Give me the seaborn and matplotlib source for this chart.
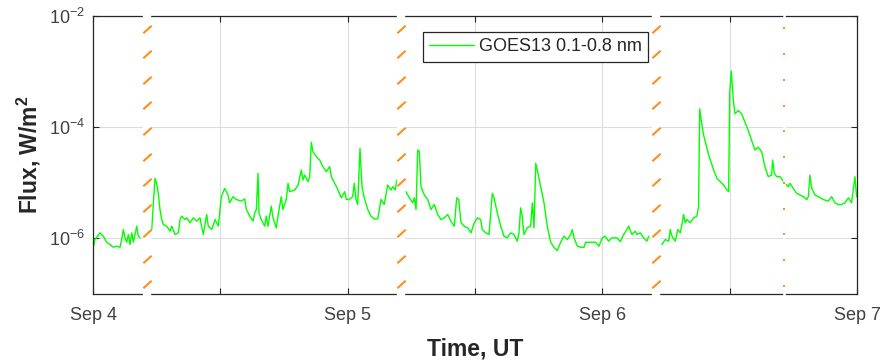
import numpy as np
import pandas as pd
import matplotlib
matplotlib.use("Agg")
import matplotlib.pyplot as plt
import matplotlib.dates as mdates
from matplotlib.path import Path
from matplotlib.ticker import FixedLocator, LogFormatterMathtext, NullLocator, FuncFormatter
import seaborn as sns

# GOES-13 long channel X-ray flux, 2017 Sep 4-7 (hours since Sep 4 00:00 UT, log10 W/m^2)
start = pd.Timestamp("2017-09-04 00:00")
hours = [
    0.03, 0.19, 0.66, 0.97, 1.29, 1.60, 1.91, 2.23, 2.54, 2.70, 2.86, 3.02, 3.18, 3.33,
    3.49, 3.65, 3.80, 3.96, 4.12, 4.27, 4.43,
    5.53, 5.84, 6.00, 6.15, 6.31, 6.47, 6.62, 6.94, 7.26, 7.42, 7.73, 8.04, 8.20, 8.36,
    8.67, 8.83, 9.14, 9.45, 9.77, 10.08, 10.39, 10.71, 10.86, 11.19, 11.50, 11.81, 11.97,
    12.09, 12.41, 12.72, 12.88, 13.19, 13.50, 13.97, 14.30, 14.45, 14.77, 15.08, 15.24,
    15.39, 15.55, 15.64, 15.86, 16.18, 16.33, 16.49, 16.80, 16.96, 17.27, 17.43, 17.74,
    17.90, 18.21, 18.38, 18.54, 19.01, 19.32, 19.63, 19.79, 19.95, 20.26, 20.42, 20.57,
    20.73, 21.04, 21.36, 21.67, 21.98, 22.30, 22.46, 22.78, 23.09, 23.40, 23.72, 23.87,
    24.15, 24.47, 24.62, 24.78, 24.94, 25.16, 25.35, 25.56, 25.89, 26.20, 26.51, 26.83,
    26.98, 27.14, 27.45, 27.77, 28.08, 28.24, 28.49, 28.62,
    29.49, 29.81, 30.13, 30.28, 30.44, 30.60, 30.75, 30.91, 31.22, 31.54, 31.85, 32.16,
    32.48, 32.79, 33.10, 33.42, 33.73, 34.05, 34.27, 34.46, 34.68, 34.99, 35.31, 35.62,
    35.93, 36.21, 36.53, 36.68, 37.00, 37.32, 37.63, 37.79, 38.10, 38.42, 38.73, 39.04,
    39.36, 39.67, 39.98, 40.14, 40.30, 40.45, 40.61, 40.92, 41.24, 41.40, 41.56, 41.72,
    41.87, 42.19, 42.50, 42.81, 43.13, 43.44, 43.75, 44.07, 44.38, 44.70, 45.01, 45.17,
    45.33, 45.64, 45.96, 46.27, 46.43, 46.90, 47.37, 47.68, 47.99, 48.27, 48.59, 48.91,
    49.38, 49.69, 50.01, 50.32, 50.48, 50.79, 51.10, 51.26, 51.57, 51.89, 52.20, 52.36,
    53.62, 53.93, 54.25, 54.40, 54.56, 54.87, 55.12, 55.34, 55.50, 55.66, 55.81, 55.97,
    56.28, 56.60, 56.91, 57.07, 57.17, 57.32, 57.55, 58.02, 58.49, 58.80, 59.11, 59.43,
    59.74, 59.90, 60.00, 60.15, 60.34, 60.50, 60.81, 61.13, 61.44, 61.75, 62.07, 62.38,
    62.69, 63.01, 63.32, 63.63, 63.95, 64.05, 64.20, 64.43, 64.74, 65.21, 65.52, 65.68,
    65.99, 66.31, 66.62, 66.94, 67.26, 67.41, 67.57, 67.73, 68.04, 68.35, 68.82, 69.29,
    69.61, 69.92, 70.23, 70.55, 70.86, 71.18, 71.49, 71.80, 71.96,
]
log_flux = [
    -6.16, -6.02, -5.90, -5.96, -6.07, -6.11, -6.16, -6.14, -6.16, -6.02, -5.84, -5.99, -6.07, -5.93,
    -6.11, -5.90, -6.07, -5.93, -5.78, -5.96, -5.99,
    -5.84, -4.92, -5.01, -5.19, -5.48, -5.66, -5.75, -5.78, -5.87, -5.78, -5.93, -5.90, -5.66, -5.60,
    -5.66, -5.63, -5.72, -5.63, -5.69, -5.63, -5.93, -5.57, -5.78, -5.84, -5.66, -5.78, -5.48,
    -5.25, -5.10, -5.22, -5.36, -5.25, -5.30, -5.33, -5.29, -5.48, -5.60, -5.69, -5.54,
    -5.48, -4.83, -5.54, -5.66, -5.78, -5.60, -5.78, -5.42, -5.63, -5.81, -5.60, -5.25,
    -5.48, -5.30, -5.01, -5.16, -5.13, -5.04, -4.77, -4.95, -4.86, -4.98, -4.89, -4.27,
    -4.44, -4.53, -4.59, -4.71, -4.80, -4.71, -4.89, -5.01, -5.13, -5.27, -5.16, -5.30,
    -5.30, -5.25, -5.01, -5.30, -5.39, -4.38, -5.07, -5.27, -5.48, -5.60, -5.65, -5.65,
    -5.48, -5.30, -5.39, -5.04, -5.13, -5.07, -5.13, -4.95,
    -5.16, -5.27, -5.36, -5.27, -5.48, -4.41, -4.44, -5.07, -5.22, -5.30, -5.48, -5.39,
    -5.57, -5.66, -5.63, -5.57, -5.69, -5.78, -5.27, -5.30, -5.72, -5.78, -5.81, -5.90,
    -5.72, -5.63, -5.66, -5.84, -5.90, -5.93, -5.19, -5.27, -5.54, -5.78, -5.96, -5.99,
    -5.90, -5.93, -6.05, -5.90, -5.45, -5.60, -5.93, -5.81, -5.78, -5.36, -5.81, -4.65,
    -4.77, -5.07, -5.36, -5.78, -6.07, -6.16, -6.22, -6.07, -5.96, -6.02, -5.93, -5.84,
    -5.99, -6.14, -6.16, -6.16, -6.07, -6.07, -6.07, -6.14, -5.99, -5.96, -6.05, -5.99,
    -5.99, -6.06, -5.93, -5.84, -5.78, -5.93, -5.87, -5.93, -5.90, -5.99, -6.05, -5.96,
    -6.11, -6.02, -6.05, -5.84, -5.96, -6.05, -5.84, -5.90, -5.75, -5.57, -5.72, -5.66,
    -5.72, -5.63, -5.60, -5.42, -3.67, -3.88, -4.15, -4.50, -4.77, -4.92, -4.98, -5.04,
    -5.13, -5.16, -3.38, -2.99, -3.52, -3.76, -3.70, -3.76, -3.91, -4.06, -4.24, -4.41,
    -4.36, -4.44, -4.71, -4.89, -4.86, -4.59, -4.83, -4.89, -4.89, -5.01, -5.07, -5.01,
    -5.10, -5.19, -5.22, -5.25, -5.30, -5.25, -4.86, -5.10, -5.22, -5.25, -5.30, -5.33,
    -5.25, -5.36, -5.39, -5.39, -5.36, -5.27, -5.36, -4.89, -5.25,
]

# data gaps (hours since start) and a single event marker
gap_hours = [5.06, 29.0, 53.1]
event_hours = [65.14]

series_label = "GOES13 0.1-0.8 nm"
day_labels = ["Sep 4", "Sep 5", "Sep 6", "Sep 7"]
y_ticks = [1e-6, 1e-4, 1e-2]

GREEN = "#00ff00"
ORANGE = "#ff8e1c"
DARK = "#262626"
TICK_GRAY = "#404040"

sns.set_style("white")
plt.rcParams.update({
    "font.family": ["Liberation Sans", "DejaVu Sans"],
    "mathtext.fontset": "custom",
    "mathtext.rm": "Liberation Sans",
    "mathtext.it": "Liberation Sans:italic",
    "mathtext.bf": "Liberation Sans:bold",
})

df = pd.DataFrame({
    "time": start + pd.to_timedelta(hours, unit="h"),
    "flux": 10.0 ** np.asarray(log_flux),
    "segment": np.searchsorted(gap_hours, hours),
})

fig = plt.figure(figsize=(8.85, 3.6), dpi=100)
ax = fig.add_axes([0.1051, 0.1833, 0.8633, 0.7723])

sns.lineplot(data=df, x="time", y="flux", units="segment", estimator=None,
             color=GREEN, lw=1.0, ax=ax, zorder=2)

ax.set_yscale("log")
ax.set_ylim(1e-7, 1e-2)
t0 = mdates.date2num(start.to_pydatetime())
ax.set_xlim(t0, t0 + 3)

# x: ticks and grid every 12 h, labels at midnight
ax.xaxis.set_major_locator(FixedLocator(t0 + np.arange(0, 3.01, 0.5)))
def day_fmt(v, pos):
    k = int(round((v - t0) * 2))
    return day_labels[k // 2] if k % 2 == 0 and 0 <= k // 2 < len(day_labels) else ""
ax.xaxis.set_major_formatter(FuncFormatter(day_fmt))
ax.xaxis.set_minor_locator(NullLocator())

ax.yaxis.set_major_locator(FixedLocator(y_ticks))
ax.yaxis.set_major_formatter(LogFormatterMathtext())
ax.yaxis.set_minor_locator(NullLocator())

ax.grid(True, which="major", color="#dcdcdc", lw=0.8)
ax.tick_params(axis="both", which="major", direction="in", length=4.5, width=0.8,
               colors=DARK, labelcolor=TICK_GRAY, labelsize=13,
               top=True, right=True, bottom=True, left=True)
ax.tick_params(axis="x", pad=9)
ax.tick_params(axis="y", pad=6)
for sp in ax.spines.values():
    sp.set_color(DARK)
    sp.set_linewidth(0.9)
    sp.set_visible(True)

ax.set_xlabel("Time, UT", fontsize=16.5, fontweight="bold", color=DARK)
ax.set_ylabel(r"Flux, W/m$^{\mathbf{2}}$", fontsize=16.5, fontweight="bold", color=DARK)
ax.xaxis.set_label_coords(0.5, -0.155)
ax.yaxis.set_label_coords(-0.065, 0.5)

# gap and event markers
trans = ax.get_xaxis_transform()
slash = Path([(-1.0, -0.9), (1.0, 0.9)], [Path.MOVETO, Path.LINETO])
slash_y = np.linspace(0.035, 0.954, 11)
dot_y = np.linspace(0.029, 0.956, 11)
for h in gap_hours:
    x = t0 + h / 24.0
    ax.plot([x, x], [-0.012, 1.012], transform=trans, color="white", lw=6.0,
            solid_capstyle="butt", zorder=3, clip_on=False)
    ax.plot([x] * len(slash_y), slash_y, transform=trans, ls="none", marker=slash,
            ms=6.0, mec=ORANGE, mew=1.5, zorder=4, clip_on=False)
for h in event_hours:
    x = t0 + h / 24.0
    ax.plot([x, x], [-0.012, 1.012], transform=trans, color="white", lw=1.8,
            solid_capstyle="butt", zorder=3, clip_on=False)
    ax.plot([x] * len(dot_y), dot_y, transform=trans, ls="none", marker="_",
            ms=2.0, mec=ORANGE, mew=1.4, zorder=4, clip_on=False)

leg = ax.legend(handles=[ax.lines[0]], labels=[series_label], loc="upper left",
                bbox_to_anchor=(0.432, 0.942), borderaxespad=0, fontsize=13,
                frameon=True, fancybox=False, framealpha=1, edgecolor=DARK,
                borderpad=0.35, handlelength=2.45, handletextpad=0.3)
leg.get_frame().set_linewidth(0.9)
for t in leg.get_texts():
    t.set_color(DARK)
leg.set_zorder(5)

fig.savefig("out.png", dpi=100, facecolor="white")
